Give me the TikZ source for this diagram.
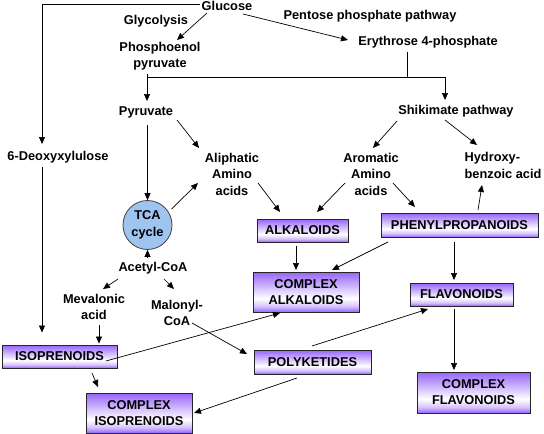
\documentclass[tikz,border=0pt]{standalone}
\usepackage{fontspec}
\setmainfont{Liberation Sans}
\usetikzlibrary{arrows.meta,calc}
\definecolor{bp}{RGB}{150,100,250}
\definecolor{tcablue}{RGB}{160,196,240}
\pgfdeclareverticalshading{boxshade}{100bp}{color(0bp)=(bp); color(25bp)=(bp); color(32bp)=(bp!40!white); color(42bp)=(white); color(50bp)=(bp!25!white); color(75bp)=(bp); color(100bp)=(bp)}
\tikzset{
  lbl/.style={font=\fontsize{12.8}{16.5}\selectfont\bfseries, inner sep=0pt, align=center},
  pbox/.style={draw=black!85, line width=0.9pt, shading=boxshade, inner sep=0pt, align=center,
    font=\fontsize{12.8}{16}\selectfont\bfseries},
  arr/.style={line width=0.7pt, -{Triangle[length=7pt,width=6pt]}},
  ln/.style={line width=0.7pt}
}
\begin{document}
\begin{tikzpicture}[x=1pt,y=-1pt]
\useasboundingbox (0,0) rectangle (544,434);
% labels
\node[lbl] (glucose) at (227,6) {Glucose};
\node[lbl] (glyco) at (156,21) {Glycolysis};
\node[lbl] (ppp) at (370,16) {Pentose phosphate pathway};
\node[lbl] (e4p) at (428,42) {Erythrose 4-phosphate};
\node[lbl] (pep) at (160,56) {Phosphoenol\\pyruvate};
\node[lbl] (pyr) at (146,112) {Pyruvate};
\node[lbl] (shik) at (456,111) {Shikimate pathway};
\node[lbl] (dxy) at (58,157) {6-Deoxyxylulose};
\node[lbl] (aliph) at (232,174) {Aliphatic\\Amino\\acids};
\node[circle, draw=black!75, line width=0.8pt, fill=tcablue, minimum size=49pt, inner sep=0pt, lbl] (tca) at (147.5,225) {TCA\\cycle};
\node[lbl] (acoa) at (153,268) {Acetyl-CoA};
\node[lbl] (mev) at (94,307) {Mevalonic\\acid};
\node[lbl] (mal) at (177,313) {Malonyl-\\CoA};
\node[lbl] (arom) at (371,174) {Aromatic\\Amino\\acids};
\node[lbl, align=left] (hydro) at (503,165.5) {Hydroxy-\\benzoic acid};
% boxes
\node[pbox, minimum width=115pt, minimum height=23pt] (iso) at (59.5,356.5) {ISOPRENOIDS};
\node[pbox, minimum width=106pt, minimum height=40pt] (ciso) at (139,413) {COMPLEX\\ISOPRENOIDS};
\node[pbox, minimum width=91pt, minimum height=23pt] (alk) at (302.5,230.5) {ALKALOIDS};
\node[pbox, minimum width=106pt, minimum height=40pt] (calk) at (306,292) {COMPLEX\\ALKALOIDS};
\node[pbox, minimum width=157pt, minimum height=24pt] (phen) at (459.5,225) {PHENYLPROPANOIDS};
\node[pbox, minimum width=103pt, minimum height=23pt] (flav) at (461.5,294.5) {FLAVONOIDS};
\node[pbox, minimum width=117pt, minimum height=24pt] (poly) at (312.5,362) {POLYKETIDES};
\node[pbox, minimum width=113pt, minimum height=41pt] (cflav) at (473.5,392.5) {COMPLEX\\FLAVONOIDS};
% connectors
\draw[arr] ($(glucose)+(-27,-2)$) -| ($(dxy)+(-16,-13)$);
\draw[arr] ($(glucose)+(-20,7)$) -- ($(pep)+(17,-16)$);
\draw[arr] ($(glucose)+(16,8)$) -- ($(e4p)+(-80,-2)$);
\draw[arr] ($(pep)+(-13,18)$) -- ($(pyr)+(1,-11)$);
\draw[arr] ($(pep)+(-13,21)$) -| ($(shik)+(-11,-11)$);
\draw[ln] ($(e4p)+(-21,10)$) -- ($(e4p)+(-21,35)$);
\draw[arr] ($(pyr)+(1.5,13)$) -- (tca.north);
\draw[arr] ($(pyr)+(31,8)$) -- ($(aliph)+(-33,-26)$);
\draw[arr] ($(tca)+(24,-16)$) -- ($(aliph)+(-34,9)$);
\draw[arr] ($(acoa)+(-5.5,-10)$) -- (tca.south);
\draw[arr] ($(acoa)+(-35,11)$) -- ($(mev)+(9,-18)$);
\draw[arr] ($(acoa)+(11,11)$) -- ($(mal)+(-3,-24)$);
\draw[arr] ($(mev)+(5,18)$) -- ($(iso.north)+(39.5,-1)$);
\draw[arr] ($(dxy)+(-16,10)$) -- ($(iso.north)+(-17.5,-12)$);
\draw[arr] ($(iso)+(32.5,16.5)$) -- ($(ciso)+(-41,-26)$);
\draw[arr] ($(iso)+(46.5,4.5)$) -- ($(calk)+(-26,21)$);
\draw[arr] ($(mal)+(15,10)$) -- ($(poly)+(-65.5,-8)$);
\draw[arr] ($(poly)+(-0.5,-16)$) -- ($(flav)+(-33.5,14.5)$);
\draw[arr] ($(poly)+(-15.5,16)$) -- ($(ciso)+(55,0)$);
\draw[arr] ($(aliph)+(26,9)$) -- ($(alk)+(-22.5,-18.5)$);
\draw[arr] ($(arom)+(-26,9)$) -- ($(alk)+(14.5,-18.5)$);
\draw[arr] ($(arom)+(22,9)$) -- ($(phen)+(-44.5,-18)$);
\draw[arr] ($(shik)+(-59,10)$) -- ($(arom)+(2,-26)$);
\draw[arr] ($(shik)+(-11,9)$) -- ($(hydro)+(-26,-20.5)$);
\draw[arr] ($(phen)+(18.5,-15)$) -- ($(hydro)+(-21,19.5)$);
\draw[arr] ($(phen)+(-71.5,17)$) -- ($(calk)+(26,-22)$);
\draw[arr] ($(alk)+(-6.5,15.5)$) -- ($(calk)+(-10,-22)$);
\draw[arr] ($(phen)+(-5.5,17)$) -- ($(flav)+(-7.5,-14.5)$);
\draw[arr] ($(flav)+(-7.5,14.5)$) -- ($(cflav)+(-19.5,-22.5)$);
\end{tikzpicture}
\end{document}
